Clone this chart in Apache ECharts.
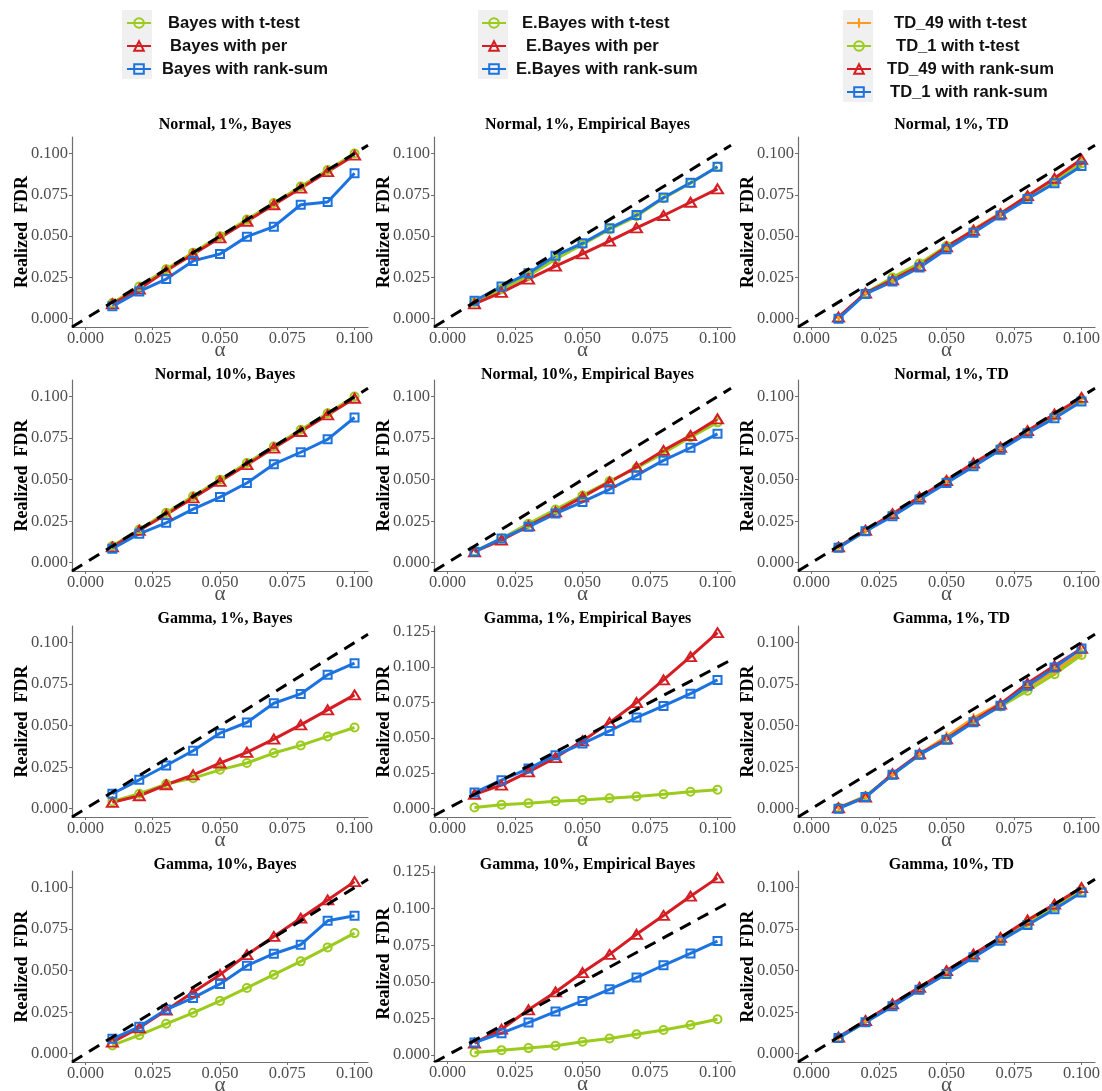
<!DOCTYPE html>
<html>
<head>
<meta charset="utf-8">
<script src="https://cdn.jsdelivr.net/npm/echarts@6/dist/echarts.min.js"></script>
<style>
html,body{margin:0;padding:0;background:#fff;}
#chart{width:1102px;height:1091px;}
</style>
</head>
<body>
<div id="chart"></div>
<script>
// ---------------- DATA ----------------
const alpha = [0.01, 0.02, 0.03, 0.04, 0.05, 0.06, 0.07, 0.08, 0.09, 0.10];
const xTicks = [0, 0.025, 0.05, 0.075, 0.1];
const yTicks100 = [0, 0.025, 0.05, 0.075, 0.1];
const yTicks125 = [0, 0.025, 0.05, 0.075, 0.1, 0.125];

const titles = [
  'Normal, 1%, Bayes', 'Normal, 1%, Empirical Bayes', 'Normal, 1%, TD',
  'Normal, 10%, Bayes', 'Normal, 10%, Empirical Bayes', 'Normal, 1%, TD',
  'Gamma, 1%, Bayes', 'Gamma, 1%, Empirical Bayes', 'Gamma, 1%, TD',
  'Gamma, 10%, Bayes', 'Gamma, 10%, Empirical Bayes', 'Gamma, 10%, TD'
];

const bayesNames = ['Bayes with t-test', 'Bayes with per', 'Bayes with rank-sum'];
const ebNames = ['E.Bayes with t-test', 'E.Bayes with per', 'E.Bayes with rank-sum'];
const tdNames = ['TD_49 with t-test', 'TD_1 with t-test', 'TD_49 with rank-sum', 'TD_1 with rank-sum'];

// Normal, 1%
const n1Bayes_t    = [0.0095, 0.0195, 0.0300, 0.0400, 0.0500, 0.0600, 0.0700, 0.0800, 0.0900, 0.1000];
const n1Bayes_per  = [0.0090, 0.0180, 0.0290, 0.0390, 0.0490, 0.0590, 0.0690, 0.0790, 0.0890, 0.0990];
const n1Bayes_rank = [0.0075, 0.0165, 0.0240, 0.0350, 0.0392, 0.0497, 0.0557, 0.0690, 0.0706, 0.0881];
const n1EB_t    = [0.0100, 0.0180, 0.0260, 0.0360, 0.0450, 0.0540, 0.0620, 0.0730, 0.0820, 0.0920];
const n1EB_per  = [0.0090, 0.0160, 0.0240, 0.0318, 0.0393, 0.0470, 0.0550, 0.0625, 0.0705, 0.0786];
const n1EB_rank = [0.0109, 0.0195, 0.0276, 0.0382, 0.0457, 0.0547, 0.0628, 0.0734, 0.0823, 0.0920];
const n1TD_49t = [0.0005, 0.0155, 0.0240, 0.0330, 0.0430, 0.0540, 0.0640, 0.0740, 0.0840, 0.0950];
const n1TD_1t  = [0.0005, 0.0155, 0.0250, 0.0335, 0.0440, 0.0530, 0.0630, 0.0735, 0.0830, 0.0940];
const n1TD_49r = [0.0010, 0.0155, 0.0235, 0.0320, 0.0435, 0.0535, 0.0635, 0.0745, 0.0850, 0.0965];
const n1TD_1r  = [0.0000, 0.0150, 0.0225, 0.0310, 0.0420, 0.0520, 0.0625, 0.0725, 0.0820, 0.0925];

// Normal, 10%
const n10Bayes_t    = [0.0100, 0.0200, 0.0300, 0.0400, 0.0500, 0.0600, 0.0700, 0.0800, 0.0900, 0.1000];
const n10Bayes_per  = [0.0095, 0.0195, 0.0290, 0.0390, 0.0490, 0.0590, 0.0690, 0.0790, 0.0890, 0.0990];
const n10Bayes_rank = [0.0084, 0.0174, 0.0240, 0.0323, 0.0395, 0.0480, 0.0593, 0.0665, 0.0743, 0.0874];
const n10EB_t    = [0.0070, 0.0145, 0.0235, 0.0320, 0.0405, 0.0490, 0.0570, 0.0660, 0.0755, 0.0845];
const n10EB_per  = [0.0066, 0.0136, 0.0222, 0.0306, 0.0396, 0.0486, 0.0576, 0.0676, 0.0766, 0.0866];
const n10EB_rank = [0.0066, 0.0146, 0.0216, 0.0296, 0.0366, 0.0442, 0.0526, 0.0616, 0.0692, 0.0776];
const n10TD_49t = [0.0095, 0.0195, 0.0290, 0.0390, 0.0490, 0.0595, 0.0690, 0.0790, 0.0890, 0.0985];
const n10TD_1t  = [0.0095, 0.0190, 0.0290, 0.0390, 0.0490, 0.0590, 0.0690, 0.0785, 0.0885, 0.0980];
const n10TD_49r = [0.0095, 0.0195, 0.0295, 0.0395, 0.0495, 0.0600, 0.0695, 0.0795, 0.0895, 0.0995];
const n10TD_1r  = [0.0090, 0.0190, 0.0280, 0.0380, 0.0480, 0.0580, 0.0680, 0.0780, 0.0870, 0.0970];

// Gamma, 1%
const g1Bayes_t    = [0.0044, 0.0090, 0.0148, 0.0184, 0.0234, 0.0275, 0.0335, 0.0381, 0.0435, 0.0489];
const g1Bayes_per  = [0.0038, 0.0078, 0.0144, 0.0204, 0.0275, 0.0339, 0.0419, 0.0505, 0.0595, 0.0685];
const g1Bayes_rank = [0.0090, 0.0174, 0.0260, 0.0349, 0.0455, 0.0519, 0.0635, 0.0691, 0.0806, 0.0876];
const g1EB_t    = [0.0007, 0.0026, 0.0038, 0.0052, 0.0061, 0.0073, 0.0085, 0.0101, 0.0118, 0.0132];
const g1EB_per  = [0.0101, 0.0165, 0.0259, 0.0360, 0.0478, 0.0607, 0.0749, 0.0909, 0.1073, 0.1243];
const g1EB_rank = [0.0113, 0.0200, 0.0282, 0.0377, 0.0459, 0.0548, 0.0643, 0.0725, 0.0812, 0.0909];
const g1TD_49t = [0.0005, 0.0070, 0.0205, 0.0330, 0.0435, 0.0545, 0.0635, 0.0730, 0.0830, 0.0940];
const g1TD_1t  = [0.0005, 0.0075, 0.0205, 0.0325, 0.0420, 0.0530, 0.0615, 0.0710, 0.0810, 0.0925];
const g1TD_49r = [0.0005, 0.0070, 0.0210, 0.0330, 0.0420, 0.0530, 0.0630, 0.0755, 0.0860, 0.0965];
const g1TD_1r  = [0.0000, 0.0070, 0.0205, 0.0325, 0.0415, 0.0520, 0.0620, 0.0740, 0.0850, 0.0965];

// Gamma, 10%
const g10Bayes_t    = [0.0050, 0.0112, 0.0180, 0.0246, 0.0318, 0.0396, 0.0476, 0.0556, 0.0640, 0.0726];
const g10Bayes_per  = [0.0070, 0.0156, 0.0262, 0.0370, 0.0476, 0.0596, 0.0706, 0.0816, 0.0926, 0.1036];
const g10Bayes_rank = [0.0090, 0.0162, 0.0266, 0.0336, 0.0420, 0.0530, 0.0602, 0.0656, 0.0800, 0.0830];
const g10EB_t    = [0.0018, 0.0034, 0.0048, 0.0064, 0.0091, 0.0113, 0.0143, 0.0172, 0.0206, 0.0245];
const g10EB_per  = [0.0082, 0.0177, 0.0309, 0.0431, 0.0563, 0.0687, 0.0824, 0.0953, 0.1084, 0.1209];
const g10EB_rank = [0.0086, 0.0150, 0.0222, 0.0297, 0.0370, 0.0449, 0.0529, 0.0613, 0.0694, 0.0778];
const g10TD_49t = [0.0095, 0.0195, 0.0295, 0.0395, 0.0495, 0.0595, 0.0695, 0.0795, 0.0895, 0.0995];
const g10TD_1t  = [0.0095, 0.0190, 0.0290, 0.0385, 0.0485, 0.0585, 0.0685, 0.0780, 0.0880, 0.0975];
const g10TD_49r = [0.0100, 0.0200, 0.0300, 0.0400, 0.0500, 0.0600, 0.0700, 0.0805, 0.0900, 0.1000];
const g10TD_1r  = [0.0095, 0.0190, 0.0285, 0.0385, 0.0480, 0.0580, 0.0680, 0.0775, 0.0870, 0.0970];

// ---------------- STYLE ----------------
const GREEN = '#9BCB1C', RED = '#D41E24', BLUE = '#1C73DF', ORANGE = '#FF9A1A';
const PLUS = 'path://M5,0 L5,10 M0,5 L10,5';
const styT = { color: GREEN, symbol: 'circle', size: 8 };
const styP = { color: RED, symbol: 'triangle', size: [11, 9] };
const styR = { color: BLUE, symbol: 'rect', size: 8 };
const styO = { color: ORANGE, symbol: PLUS, size: 10 };

const panelSeries = [
  [[bayesNames[0], n1Bayes_t, styT], [bayesNames[1], n1Bayes_per, styP], [bayesNames[2], n1Bayes_rank, styR]],
  [[ebNames[0], n1EB_t, styT], [ebNames[1], n1EB_per, styP], [ebNames[2], n1EB_rank, styR]],
  [[tdNames[0], n1TD_49t, styO], [tdNames[1], n1TD_1t, styT], [tdNames[2], n1TD_49r, styP], [tdNames[3], n1TD_1r, styR]],
  [[bayesNames[0], n10Bayes_t, styT], [bayesNames[1], n10Bayes_per, styP], [bayesNames[2], n10Bayes_rank, styR]],
  [[ebNames[0], n10EB_t, styT], [ebNames[1], n10EB_per, styP], [ebNames[2], n10EB_rank, styR]],
  [[tdNames[0], n10TD_49t, styO], [tdNames[1], n10TD_1t, styT], [tdNames[2], n10TD_49r, styP], [tdNames[3], n10TD_1r, styR]],
  [[bayesNames[0], g1Bayes_t, styT], [bayesNames[1], g1Bayes_per, styP], [bayesNames[2], g1Bayes_rank, styR]],
  [[ebNames[0], g1EB_t, styT], [ebNames[1], g1EB_per, styP], [ebNames[2], g1EB_rank, styR]],
  [[tdNames[0], g1TD_49t, styO], [tdNames[1], g1TD_1t, styT], [tdNames[2], g1TD_49r, styP], [tdNames[3], g1TD_1r, styR]],
  [[bayesNames[0], g10Bayes_t, styT], [bayesNames[1], g10Bayes_per, styP], [bayesNames[2], g10Bayes_rank, styR]],
  [[ebNames[0], g10EB_t, styT], [ebNames[1], g10EB_per, styP], [ebNames[2], g10EB_rank, styR]],
  [[tdNames[0], g10TD_49t, styO], [tdNames[1], g10TD_1t, styT], [tdNames[2], g10TD_49r, styP], [tdNames[3], g10TD_1r, styR]]
];

// layout (pixels)
const colX = [[72, 368], [434, 731], [798, 1095]];
const rowY = [[137, 327], [380, 571], [626, 817], [871, 1062]];
const titleY = [112, 362, 606, 852];
const yRangeStd = [-0.005, 0.11];
const bigPanels = { 7: [626, 817, -0.006, 0.129], 10: [866, 1061, -0.004, 0.129] };

const SERIF = "'Liberation Serif', 'Times New Roman', serif";
const SANS = "'Liberation Sans', Arial, sans-serif";
const AXIS_COL = '#6e6e6e';
const LABEL_COL = '#4d4d4d';

const grid = [], xAxis = [], yAxis = [], series = [], title = [];
for (let p = 0; p < 12; p++) {
  const r = Math.floor(p / 3), c = p % 3;
  let top = rowY[r][0], bottom = rowY[r][1], ymin = yRangeStd[0], ymax = yRangeStd[1];
  let yT = yTicks100;
  if (bigPanels[p]) { [top, bottom, ymin, ymax] = bigPanels[p]; yT = yTicks125; }
  const left = colX[c][0], right = colX[c][1];
  grid.push({ left: left, top: top, width: right - left, height: bottom - top,
              containLabel: false, outerBoundsMode: 'none' });
  xAxis.push({
    type: 'value', gridIndex: p, min: -0.005, max: 0.105,
    splitLine: { show: false },
    axisLine: { show: true, onZero: false, lineStyle: { color: AXIS_COL, width: 1.2 } },
    axisTick: { show: true, length: 3, customValues: xTicks, lineStyle: { color: AXIS_COL } },
    axisLabel: { customValues: xTicks, formatter: v => v.toFixed(3), color: LABEL_COL,
                 fontFamily: SERIF, fontSize: 16.5, margin: 3 },
    name: 'α', nameLocation: 'middle', nameGap: 13, nameMoveOverlap: false,
    nameTextStyle: { fontFamily: SERIF, fontSize: 21, color: LABEL_COL, verticalAlign: 'top' }
  });
  yAxis.push({
    type: 'value', gridIndex: p, min: ymin, max: ymax,
    splitLine: { show: false },
    axisLine: { show: true, onZero: false, lineStyle: { color: AXIS_COL, width: 1.2 } },
    axisTick: { show: true, length: 3, customValues: yT, lineStyle: { color: AXIS_COL } },
    axisLabel: { customValues: yT, formatter: v => v.toFixed(3), color: LABEL_COL,
                 fontFamily: SERIF, fontSize: 16.5, margin: 4 },
    name: 'Realized  FDR', nameLocation: 'middle', nameGap: 41, nameMoveOverlap: false,
    nameTextStyle: { fontFamily: SERIF, fontSize: 18, fontWeight: 'bold', color: '#000' }
  });
  title.push({
    text: titles[p], left: (left + right) / 2, top: titleY[r], textAlign: 'center',
    textStyle: { fontFamily: SERIF, fontSize: 16, fontWeight: 'bold', color: '#000' }
  });
  panelSeries[p].forEach(([name, vals, sty]) => {
    series.push({
      type: 'line', name: name, xAxisIndex: p, yAxisIndex: p,
      data: alpha.map((a, i) => [a, vals[i]]),
      symbol: sty.symbol, symbolSize: sty.size, showSymbol: true,
      lineStyle: { color: sty.color, width: 3 },
      itemStyle: { color: 'rgba(255,255,255,0)', borderColor: sty.color, borderWidth: 2 },
      emphasis: { disabled: true }, animation: false, z: 2
    });
  });
  series.push({
    type: 'line', name: '__ref' + p, xAxisIndex: p, yAxisIndex: p,
    data: [[-0.005, -0.005], [0.105, 0.105]], symbol: 'none',
    lineStyle: { color: '#000', width: 3, type: [12, 8] },
    emphasis: { disabled: true }, animation: false, z: 3, silent: true
  });
}

function mkLegend(names, left, top, pads) {
  return {
    orient: 'vertical', left: left, top: top, padding: 0,
    itemWidth: 24, itemHeight: 12, itemGap: 5,
    data: names.map((n, i) => ({ name: n, textStyle: { padding: [0, 0, 0, pads[i]] } })),
    textStyle: { fontFamily: SANS, fontSize: 16.6, fontWeight: 'bold', color: '#111', lineHeight: 18 },
    selectedMode: false
  };
}
const legend = [
  mkLegend(bayesNames, 126, 14, [12, 14, 6]),
  mkLegend(ebNames, 481, 14, [11, 15, 5]),
  mkLegend(tdNames, 846, 14, [18, 20, 11, 14])
];

const graphic = [
  { type: 'rect', shape: { x: 122, y: 10, width: 30, height: 69 }, style: { fill: '#f0f0f0' }, z: 0, silent: true },
  { type: 'rect', shape: { x: 478, y: 10, width: 30, height: 69 }, style: { fill: '#f0f0f0' }, z: 0, silent: true },
  { type: 'rect', shape: { x: 843, y: 10, width: 30, height: 92 }, style: { fill: '#f0f0f0' }, z: 0, silent: true }
];

const chart = echarts.init(document.getElementById('chart'), null, { renderer: 'canvas' });
chart.setOption({
  backgroundColor: '#ffffff',
  animation: false,
  title: title, grid: grid, xAxis: xAxis, yAxis: yAxis, series: series,
  legend: legend, graphic: graphic
});
</script>
</body>
</html>
